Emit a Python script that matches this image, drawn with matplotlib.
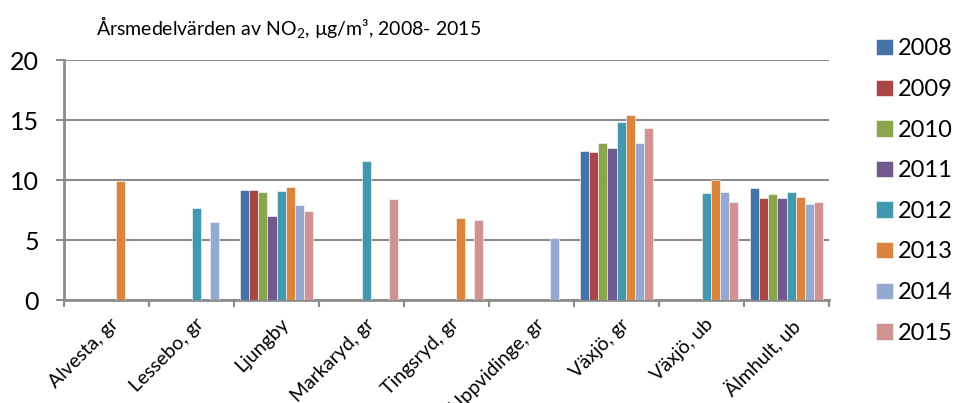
import numpy as np
import matplotlib
matplotlib.use("Agg")
import matplotlib.pyplot as plt

plt.rcParams['font.family'] = ['Lato', 'DejaVu Sans']
plt.rcParams['mathtext.fontset'] = 'custom'
plt.rcParams['mathtext.rm'] = 'Lato'
plt.rcParams['mathtext.it'] = 'Lato:italic'

# Annual mean NO2 per station (NaN = no measurement that year)
stations = ["Alvesta, gr", "Lessebo, gr", "Ljungby", "Markaryd, gr", "Tingsryd, gr",
            "Uppvidinge, gr", "Växjö, gr", "Växjö, ub", "Älmhult, ub"]
years = ["2008", "2009", "2010", "2011", "2012", "2013", "2014", "2015"]
nan = np.nan
v2008 = [nan, nan, 9.2, nan, nan, nan, 12.4, nan, 9.3]
v2009 = [nan, nan, 9.2, nan, nan, nan, 12.3, nan, 8.5]
v2010 = [nan, nan, 9.0, nan, nan, nan, 13.1, nan, 8.8]
v2011 = [nan, nan, 7.0, nan, nan, nan, 12.7, nan, 8.5]
v2012 = [nan, 7.7, 9.1, 11.6, nan, nan, 14.8, 8.9, 9.0]
v2013 = [9.9, nan, 9.4, nan, 6.8, nan, 15.4, 10.0, 8.6]
v2014 = [nan, 6.5, 7.9, nan, nan, 5.2, 13.1, 9.0, 8.0]
v2015 = [nan, nan, 7.4, 8.4, 6.7, nan, 14.3, 8.2, 8.2]
series = [v2008, v2009, v2010, v2011, v2012, v2013, v2014, v2015]
colors = ["#4572A7", "#AA4643", "#89A54E", "#71588F",
          "#4198AF", "#DB843D", "#93A9CF", "#D19392"]
yticks = [0, 5, 10, 15, 20]

fig = plt.figure(figsize=(9.59, 4.03), dpi=100)
ax = fig.add_axes([64 / 959, 103 / 403, (829 - 64) / 959, 240 / 403])

x = np.arange(len(stations))
n = len(series)
bw = 0.106
for i, (vals, c, yr) in enumerate(zip(series, colors, years)):
    ax.bar(x + (i - (n - 1) / 2) * bw, vals, width=bw, color=c, label=yr,
           edgecolor="white", linewidth=0.4, zorder=3)

ax.set_xlim(-0.5, len(stations) - 0.5)
ax.set_ylim(0, 20)
ax.set_yticks(yticks)
ax.set_yticklabels([str(t) for t in yticks], fontsize=18)
ax.yaxis.grid(True, color="#8c8c8c", linewidth=1.5, zorder=0)
ax.set_axisbelow(True)

ax.set_xticks(x + 0.04)
ax.set_xticklabels(stations, rotation=45, ha="right", rotation_mode="anchor",
                   fontsize=14)
ax.set_xticks(np.arange(-0.5, len(stations)), minor=True)
ax.tick_params(axis="x", which="major", length=0, pad=11)
ax.tick_params(axis="x", which="minor", length=5, color="#8c8c8c", width=1.5)
ax.tick_params(axis="y", length=6, color="#8c8c8c", width=1.5, pad=12)

for s in ["top", "right"]:
    ax.spines[s].set_visible(False)
for s in ["left", "bottom"]:
    ax.spines[s].set_color("#8c8c8c")
    ax.spines[s].set_linewidth(2)

fig.text(289 / 959, 1 - 27 / 403,
         "Årsmedelvärden av NO$_\\mathrm{2}$, µg/m³, 2008- 2015",
         ha="center", va="center", fontsize=14)

handles, labels = ax.get_legend_handles_labels()
fig.legend(handles, labels, loc="upper left", bbox_to_anchor=(867 / 959, 1 - 29 / 403),
           frameon=False, fontsize=17, handlelength=0.7, handleheight=0.7,
           handletextpad=0.2, labelspacing=0.83, borderaxespad=0)

fig.savefig("out.png", dpi=100)
